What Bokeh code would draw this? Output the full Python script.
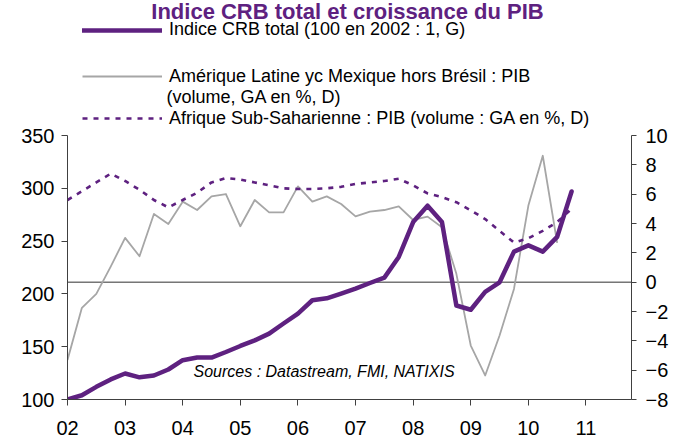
from bokeh.plotting import figure
from bokeh.models import (LinearAxis, Range1d, FixedTicker, Span, Label,
                          Legend, LegendItem)
from bokeh.embed import file_html
from bokeh.resources import INLINE

# ---------------- data (quarterly, decimal years) ----------------
quarters = [2002.00, 2002.25, 2002.50, 2002.75, 2003.00, 2003.25, 2003.50, 2003.75,
            2004.00, 2004.25, 2004.50, 2004.75, 2005.00, 2005.25, 2005.50, 2005.75,
            2006.00, 2006.25, 2006.50, 2006.75, 2007.00, 2007.25, 2007.50, 2007.75,
            2008.00, 2008.25, 2008.50, 2008.75, 2009.00, 2009.25, 2009.50, 2009.75,
            2010.00, 2010.25, 2010.50, 2010.75]

# Indice CRB total (100 en 2002:1), left axis
crb = [100, 104, 112, 119, 124.6, 121, 122.7, 128.4,
       137.2, 139.7, 139.7, 145, 150.7, 156, 162.4, 172,
       181.4, 194, 195.8, 200.3, 205, 210.3, 215.4, 235,
       268, 283.5, 268, 189, 185, 202, 211, 240,
       246, 240, 254, 297]

# Amerique Latine yc Mexique hors Bresil : PIB (GA %), right axis
latam = [-5.3, -1.75, -0.8, 1.06, 3.02, 1.77, 4.65, 3.97,
         5.49, 4.92, 5.85, 6.01, 3.81, 5.6, 4.76, 4.76,
         6.53, 5.49, 5.85, 5.33, 4.49, 4.81, 4.92, 5.17,
         4.24, 4.47, 3.74, 0.57, -4.32, -6.36, -3.64, -0.46,
         5.22, 8.62, 2.68]

# Afrique Sub-Saharienne : PIB (GA %), right axis
ssa = [5.6, 6.2, 6.8, 7.4, 6.9, 6.3, 5.6, 5.1,
       5.6, 6.1, 6.8, 7.1, 7.0, 6.8, 6.6, 6.4,
       6.35, 6.35, 6.4, 6.5, 6.7, 6.8, 6.9, 7.05,
       6.6, 6.05, 5.8, 5.45, 4.9, 4.3, 3.5, 2.7,
       3.0, 3.5, 4.1, 5.0]

x_ticks = [2002, 2003, 2004, 2005, 2006, 2007, 2008, 2009, 2010, 2011]
x_labels = ["02", "03", "04", "05", "06", "07", "08", "09", "10", "11"]
left_ticks = [100, 150, 200, 250, 300, 350]
right_ticks = [-8, -6, -4, -2, 0, 2, 4, 6, 8, 10]

title_text = "Indice CRB total et croissance du PIB"
lab_crb = "Indice CRB total (100 en 2002 : 1, G)"
lab_latam_1 = "Amérique Latine yc Mexique hors Brésil : PIB"
lab_latam_2 = "(volume, GA en %, D)"
lab_ssa = "Afrique Sub-Saharienne : PIB (volume : GA en %, D)"
source_text = "Sources : Datastream, FMI, NATIXIS"

# ---------------- style / layout ----------------
PURPLE = "#5E2180"
GREY = "#A6A6A6"
AXIS = "#404040"
FONT = "Liberation Sans"

W, H = 685, 443
BL, BR, BB = 67, 54, 44          # side panels (frame spans from the top)
FB = H - BB                      # frame bottom, px from top
PLOT_TOP_PX = 135                # where 350 / 10 sit
LEFT_LO, LEFT_HI = 100, 350
RIGHT_LO, RIGHT_HI = -8, 10
left_top = LEFT_HI + PLOT_TOP_PX * (LEFT_HI - LEFT_LO) / (FB - PLOT_TOP_PX)
right_top = RIGHT_HI + PLOT_TOP_PX * (RIGHT_HI - RIGHT_LO) / (FB - PLOT_TOP_PX)

p = figure(width=W, height=H, output_backend="svg", toolbar_location=None,
           x_range=Range1d(2002, 2011.79), y_range=Range1d(LEFT_LO, left_top),
           min_border_left=BL, min_border_right=BR, min_border_top=0,
           min_border_bottom=BB, outline_line_color=None,
           background_fill_color="white", border_fill_color="white")
p.extra_y_ranges = {"right": Range1d(RIGHT_LO, right_top)}
p.add_layout(LinearAxis(y_range_name="right"), "right")
p.xgrid.visible = False
p.ygrid.visible = False

p.xaxis.ticker = FixedTicker(ticks=x_ticks)
p.xaxis.major_label_overrides = {t: l for t, l in zip(x_ticks, x_labels)}
p.yaxis[0].ticker = FixedTicker(ticks=left_ticks)
p.yaxis[0].bounds = (LEFT_LO, LEFT_HI)
p.yaxis[1].ticker = FixedTicker(ticks=right_ticks)
p.yaxis[1].bounds = (RIGHT_LO, RIGHT_HI)

for ax in list(p.xaxis) + list(p.yaxis):
    ax.axis_line_color = AXIS
    ax.axis_line_width = 1
    ax.major_tick_line_color = AXIS
    ax.major_tick_in = 0
    ax.major_tick_out = 6
    ax.minor_tick_line_color = None
    ax.major_label_text_font = FONT
    ax.major_label_text_font_size = "20px"
    ax.major_label_text_color = "black"
p.xaxis.major_label_standoff = 15
p.yaxis[0].major_label_standoff = 7
p.yaxis[1].major_label_standoff = 9
p.yaxis[1].major_tick_out = 5

# zero line of the right axis
p.add_layout(Span(location=0, dimension="width", y_range_name="right",
                  line_color="#303030", line_width=1, level="underlay"))

r_latam = p.line(quarters[:len(latam)], latam, y_range_name="right",
                 line_color=GREY, line_width=1.8, line_join="round")
r_ssa = p.line(quarters, ssa, y_range_name="right", line_color=PURPLE,
               line_width=2.6, line_dash="5 6")
r_crb = p.line(quarters, crb, line_color=PURPLE, line_width=4.5,
               line_join="round", line_cap="round")

ITEM_H = 22

def make_legend(label, renderer, px_x, px_center):
    return Legend(items=[LegendItem(label=label, renderers=[renderer])],
                  location=(px_x - BL, FB - (px_center + ITEM_H / 2)),
                  border_line_color=None, background_fill_alpha=0,
                  padding=0, margin=0, spacing=0, glyph_width=80,
                  glyph_height=ITEM_H, label_height=ITEM_H, label_standoff=7,
                  label_text_font=FONT, label_text_font_size="18px",
                  label_text_color="black")

p.add_layout(make_legend(lab_crb, r_crb, 82, 29.5))
p.add_layout(make_legend(lab_latam_1, r_latam, 82, 76))
p.add_layout(make_legend(lab_ssa, r_ssa, 82, 118))

def px_label(text, px_x, px_mid, size, style="normal", color="black", align="left"):
    return Label(x=px_x - BL, y=FB - px_mid, x_units="screen", y_units="screen",
                 text=text, text_font=FONT, text_font_size=size,
                 text_font_style=style, text_color=color, text_align=align,
                 text_baseline="middle")

p.add_layout(px_label(lab_latam_2, 166, 96.5, "18px"))
p.add_layout(px_label(source_text, 193, 371, "16px", style="italic"))
p.add_layout(px_label(title_text, 347, 11, "22px", style="bold",
                      color=PURPLE, align="center"))

open("out.html", "w").write(file_html(p, INLINE))
